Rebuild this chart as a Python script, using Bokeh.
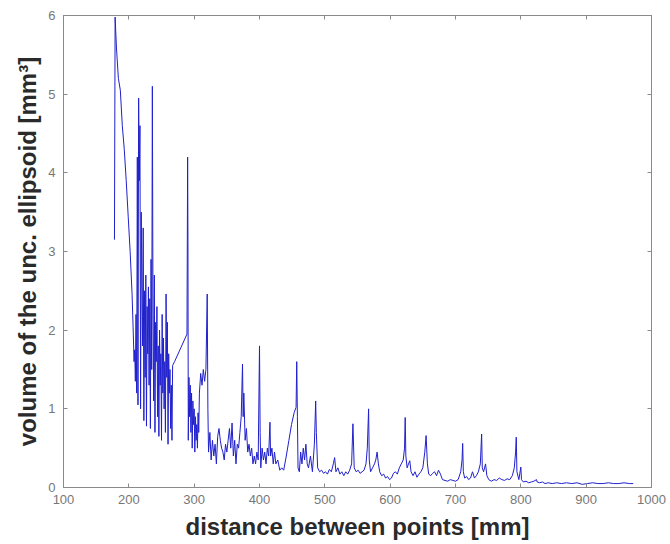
from bokeh.plotting import figure
from bokeh.models import Range1d, LinearAxis, FixedTicker
from bokeh.embed import file_html
from bokeh.resources import INLINE

# ---- data ----
distance_mm = [
    178, 179, 181, 184, 187, 190, 193, 196, 199, 202, 205, 207, 208, 209, 210, 211, 212, 213, 214, 215,
    216, 217, 218, 219, 220, 221, 222, 223, 224, 225, 226, 227, 228, 229, 230, 231, 232, 233, 234, 235,
    236, 237, 238, 239, 240, 241, 242, 243, 244, 245, 246, 247, 248, 249, 250, 251, 252, 253, 254, 255,
    256, 257, 258, 259, 260, 261, 262, 263, 264, 265, 266, 267, 270, 289, 290, 290.5, 291, 292, 293, 294,
    295, 296, 297, 298, 299, 300, 301, 302, 303, 304, 305, 306, 307, 308, 310, 312, 314, 316, 318, 320,
    321, 322, 324, 326, 328, 330, 332, 334, 336, 338, 340, 342, 344, 346, 348, 350, 352, 354, 356, 358,
    360, 362, 364, 366, 368, 370, 372, 374, 375, 376, 378, 380, 382, 384, 386, 388, 390, 392, 394, 396,
    398, 400, 401, 402, 404, 406, 408, 410, 412, 414, 416, 417, 419, 421, 423, 425, 428, 431, 434, 437,
    441, 445, 449, 453, 456, 457, 458, 459, 461, 463, 465, 467, 469, 471, 473, 475, 478, 481, 484, 486,
    487, 489, 492, 495, 498, 501, 504, 507, 510, 513, 515, 517, 520, 523, 526, 529, 532, 535, 538, 541,
    543, 545, 548, 551, 554, 557, 560, 563, 565, 567, 568, 570, 573, 576, 578, 580, 582, 584, 587, 590,
    593, 596, 599, 602, 605, 608, 611, 614, 617, 620, 622, 623, 624, 626, 628, 630, 632, 635, 638, 641,
    644, 647, 650, 653, 655, 657, 659, 662, 665, 668, 671, 674, 677, 680, 684, 688, 692, 696, 700, 704,
    708, 710, 711, 712, 714, 717, 720, 723, 726, 729, 732, 735, 738, 740, 741, 743, 746, 748, 751, 755,
    759, 763, 767, 771, 775, 779, 783, 787, 790, 792, 793, 794, 797, 800, 801, 804, 808, 812, 816, 820,
    824, 825, 829, 833, 837, 842, 848, 855, 862, 870, 878, 886, 894, 902, 910, 918, 926, 934, 942, 950,
    958, 966, 972,
]
volume_mm3 = [
    3.15, 5.98, 5.6, 5.2, 5.05, 4.6, 4.3, 3.9, 3.45, 3.0, 2.45, 1.9, 1.6, 1.75, 1.35, 2.2, 1.2, 4.2, 1.05, 4.95,
    3.9, 4.6, 1.0, 3.5, 2.6, 1.8, 3.3, 0.85, 2.5, 1.4, 2.7, 0.78, 2.3, 1.7, 2.55, 1.3, 2.4, 0.75, 2.9, 1.5,
    5.1, 2.2, 1.1, 2.7, 0.7, 2.1, 1.6, 2.3, 0.9, 1.8, 0.65, 2.0, 1.3, 1.7, 0.6, 2.2, 1.2, 1.9, 1.0, 1.6,
    0.7, 2.46, 1.4, 2.1, 0.55, 1.7, 1.2, 1.5, 0.75, 1.3, 0.6, 1.55, 1.6, 1.95, 4.2, 3.1, 0.6, 1.4, 0.9, 1.3,
    0.7, 1.2, 0.5, 1.1, 0.8, 1.0, 0.45, 0.9, 0.6, 0.8, 0.5, 0.95, 0.7, 1.2, 1.45, 1.3, 1.5, 1.35, 1.5, 2.46,
    1.0, 0.45, 0.7, 0.35, 0.6, 0.4, 0.55, 0.3, 0.65, 0.75, 0.6, 0.5, 0.45, 0.35, 0.55, 0.45, 0.6, 0.75, 0.5, 0.82,
    0.4, 0.6, 0.3, 0.55, 0.5, 0.7, 0.9, 1.57, 0.9, 1.2, 0.6, 0.75, 0.45, 0.55, 0.4, 0.5, 0.3, 0.4, 0.3, 0.45,
    0.35, 1.8, 0.7, 0.25, 0.5, 0.35, 0.45, 0.3, 0.5, 0.4, 0.83, 0.4, 0.5, 0.3, 0.45, 0.3, 0.35, 0.22, 0.25, 0.22,
    0.4, 0.6, 0.8, 0.95, 1.02, 1.6, 0.9, 0.25, 0.2, 0.45, 0.3, 0.5, 0.35, 0.55, 0.3, 0.25, 0.4, 0.2, 0.55, 1.1,
    0.7, 0.25, 0.2, 0.22, 0.18, 0.2, 0.17, 0.23, 0.2, 0.3, 0.38, 0.2, 0.25, 0.17, 0.2, 0.15, 0.2, 0.17, 0.22, 0.3,
    0.81, 0.25, 0.2, 0.22, 0.18, 0.2, 0.22, 0.3, 0.5, 1.0, 0.35, 0.2, 0.25, 0.3, 0.35, 0.45, 0.3, 0.2, 0.15, 0.17,
    0.12, 0.14, 0.1, 0.12, 0.18, 0.2, 0.17, 0.25, 0.3, 0.35, 0.5, 0.89, 0.4, 0.25, 0.3, 0.34, 0.2, 0.15, 0.2, 0.13,
    0.17, 0.2, 0.25, 0.45, 0.66, 0.3, 0.17, 0.15, 0.18, 0.2, 0.15, 0.22, 0.17, 0.1, 0.09, 0.08, 0.1, 0.09, 0.08, 0.1,
    0.2, 0.35, 0.56, 0.2, 0.12, 0.14, 0.1, 0.12, 0.2, 0.12, 0.15, 0.2, 0.3, 0.68, 0.25, 0.2, 0.3, 0.15, 0.1, 0.08,
    0.1, 0.09, 0.12, 0.1, 0.09, 0.11, 0.1, 0.15, 0.25, 0.45, 0.64, 0.2, 0.1, 0.26, 0.1, 0.07, 0.08, 0.06, 0.07, 0.08,
    0.1, 0.07, 0.06, 0.07, 0.05, 0.06, 0.05, 0.06, 0.05, 0.06, 0.05, 0.06, 0.04, 0.05, 0.06, 0.05, 0.05, 0.06, 0.05, 0.05,
    0.06, 0.05, 0.05,
]
x_ticks = [100, 200, 300, 400, 500, 600, 700, 800, 900, 1000]
y_ticks = [0, 1, 2, 3, 4, 5, 6]
x_label = "distance between points [mm]"
y_label = "volume of the unc. ellipsoid [mm\u00b3]"

FONT = "Liberation Sans"
GRAY = "#8a8a8a"

p = figure(width=670, height=544, output_backend="svg", toolbar_location=None,
           x_range=Range1d(100, 1000), y_range=Range1d(0, 6),
           min_border_left=63, min_border_right=19, min_border_top=15, min_border_bottom=57,
           background_fill_color="white", border_fill_color="white")
p.xgrid.visible = False
p.ygrid.visible = False
p.outline_line_color = GRAY
p.outline_line_width = 1

p.line(distance_mm, volume_mm3, line_color="#2020cc", line_width=1)

def style(ax, ticks, show_labels):
    ax.ticker = FixedTicker(ticks=ticks)
    ax.axis_line_color = GRAY
    ax.major_tick_line_color = GRAY
    ax.major_tick_in = 4
    ax.major_tick_out = 0
    ax.minor_tick_line_color = None
    ax.major_label_text_font = FONT
    if show_labels:
        ax.major_label_text_color = "#777777"
        ax.major_label_text_font_size = "13px"
        ax.major_label_standoff = 7
    else:
        ax.major_label_text_color = None
        ax.major_label_text_font_size = "1px"
        ax.major_label_standoff = 0
    ax.axis_label_text_font = FONT
    ax.axis_label_text_font_size = "24px"
    ax.axis_label_text_font_style = "bold"
    ax.axis_label_text_color = "#2a2a2a"
    ax.axis_label_standoff = 6

style(p.xaxis[0], x_ticks, True)
style(p.yaxis[0], y_ticks, True)
p.xaxis[0].axis_label = x_label
p.yaxis[0].axis_label = y_label
p.yaxis[0].major_label_standoff = 8
p.yaxis[0].axis_label_standoff = 4

top = LinearAxis()
style(top, x_ticks, False)
p.add_layout(top, "above")
right = LinearAxis()
style(right, y_ticks, False)
p.add_layout(right, "right")

open("out.html", "w").write(file_html(p, INLINE))
